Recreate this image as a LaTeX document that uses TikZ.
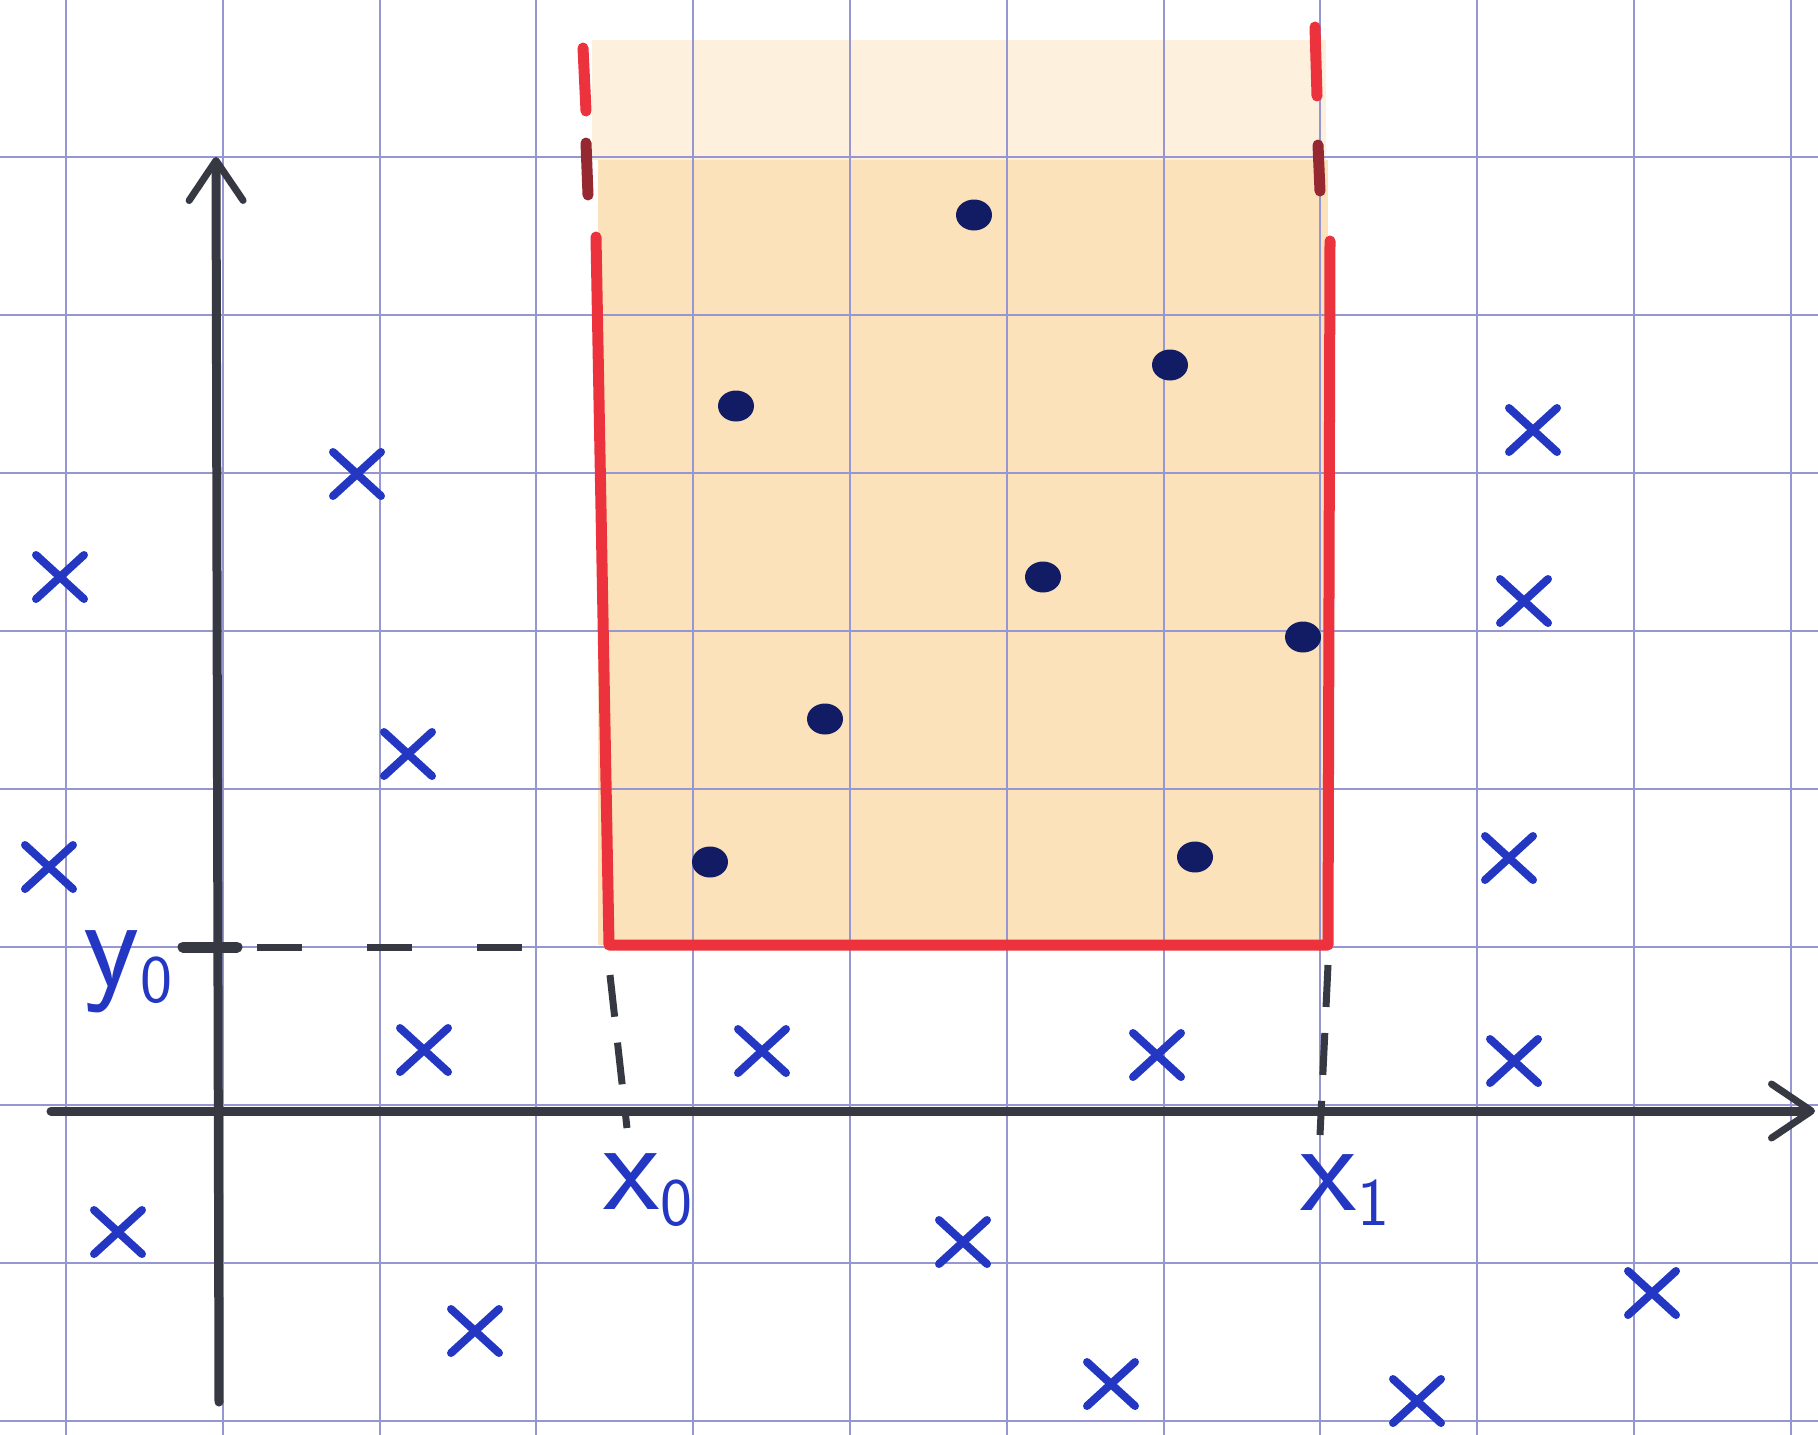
\documentclass[tikz,border=0pt]{standalone}
\usetikzlibrary{arrows.meta,shapes.misc,shapes.geometric}
\definecolor{gridc}{RGB}{150,150,210}
\definecolor{axisc}{RGB}{55,57,66}
\definecolor{pen}{RGB}{35,55,195}
\definecolor{dotc}{RGB}{18,28,100}
\definecolor{redc}{RGB}{236,50,60}
\definecolor{darkred}{RGB}{150,40,50}
\definecolor{fillc}{RGB}{251,226,186}
\definecolor{fillp}{RGB}{253,241,222}
\newcommand{\hlabel}[2]{{\sffamily\fontsize{130}{130}\selectfont #1\raisebox{-0.12em}{\fontsize{68}{68}\selectfont #2}}}
\begin{document}
\begin{tikzpicture}[x=1pt,y=-1pt,
  gridline/.style={draw=gridc,line width=2pt},
  axisline/.style={draw=axisc,line width=9pt,line cap=round,
    -{Straight Barb[length=40pt,width=54pt,line width=7pt,round]}},
  redline/.style={draw=redc,line width=11pt,line cap=round,line join=round},
  guide/.style={draw=axisc,line width=7pt,dash pattern=on 42pt off 26pt},
  cross/.style={cross out,draw=pen,line width=8pt,line cap=round,
    minimum width=40pt,minimum height=36pt,inner sep=0pt},
  dotn/.style={ellipse,fill=dotc,minimum width=36pt,minimum height=31pt,inner sep=0pt},
  lab/.style={text=pen,inner sep=0pt}]
\useasboundingbox (0,0) rectangle (1818,1435);
\fill[white] (0,0) rectangle (1818,1435);
% shaded region
\fill[fillp] (592,40) rectangle (1326,160);
\fill[fillc] (598,160) rectangle (1328,945);
% grid
\foreach \i in {0,...,11}
  \draw[gridline] ({66+156.8*\i},0) -- ({66+156.8*\i},1435);
\foreach \j in {0,...,9}
  \draw[gridline] (0,{-1+158*\j}) -- (1818,{-1+158*\j});
% axes
\coordinate (yb) at (219,1402);
\coordinate (yt) at (216,157);
\coordinate (xl) at (51,1111);
\coordinate (xr) at (1815,1111);
\draw[axisline] (yb) -- (yt);
\draw[axisline] (xl) -- (xr);
% rectangle corners
\coordinate (tl) at (596,237);
\coordinate (bl) at (609,945);
\coordinate (br) at (1328,945);
\coordinate (tr) at (1330,241);
\draw[redline] (tl) -- (bl) -- (br) -- (tr);
\draw[redline] (583,48) -- (586,111);
\draw[redline,draw=darkred] (586,143) -- (588,195);
\draw[redline] (1315,27) -- (1317,96);
\draw[redline,draw=darkred] (1318,145) -- (1320,191);
% guides
\coordinate (y0a) at (183,947);
\coordinate (y0b) at (237,947);
\coordinate (y0c) at (257,947);
\coordinate (y0d) at (533,947);
\draw[draw=axisc,line width=11pt,line cap=round] (y0a) -- (y0b);
\draw[guide,dash pattern=on 45pt off 65pt] (y0c) -- (y0d);
\coordinate (x0a) at (610,975);
\coordinate (x0b) at (627,1128);
\draw[guide] (x0a) -- (x0b);
\coordinate (x1a) at (1328,965);
\coordinate (x1b) at (1320,1135);
\draw[guide] (x1a) -- (x1b);
% labels
\node[lab] (ly0) at (128,972) {\hlabel{y}{0}};
\node[lab] (lx0) at (648,1190) {\hlabel{x}{0}};
\node[lab] (lx1) at (1345,1190) {\hlabel{x}{1}};
% dots
\node[dotn] (d1) at (974,215) {};
\node[dotn] (d2) at (1170,365) {};
\node[dotn] (d3) at (736,406) {};
\node[dotn] (d4) at (1043,577) {};
\node[dotn] (d5) at (1303,637) {};
\node[dotn] (d6) at (825,719) {};
\node[dotn] (d7) at (710,862) {};
\node[dotn] (d8) at (1195,857) {};
% crosses
\node[cross] (c1) at (357,474) {};
\node[cross] (c2) at (60,577) {};
\node[cross] (c3) at (1533,430) {};
\node[cross] (c4) at (1524,601) {};
\node[cross] (c5) at (408,754) {};
\node[cross] (c6) at (49,867) {};
\node[cross] (c7) at (1509,858) {};
\node[cross] (c8) at (424,1050) {};
\node[cross] (c9) at (762,1051) {};
\node[cross] (c10) at (1157,1055) {};
\node[cross] (c11) at (1514,1061) {};
\node[cross] (c12) at (118,1232) {};
\node[cross] (c13) at (963,1242) {};
\node[cross] (c14) at (475,1331) {};
\node[cross] (c15) at (1652,1293) {};
\node[cross] (c16) at (1111,1384) {};
\node[cross] (c17) at (1417,1401) {};
\end{tikzpicture}
\end{document}
